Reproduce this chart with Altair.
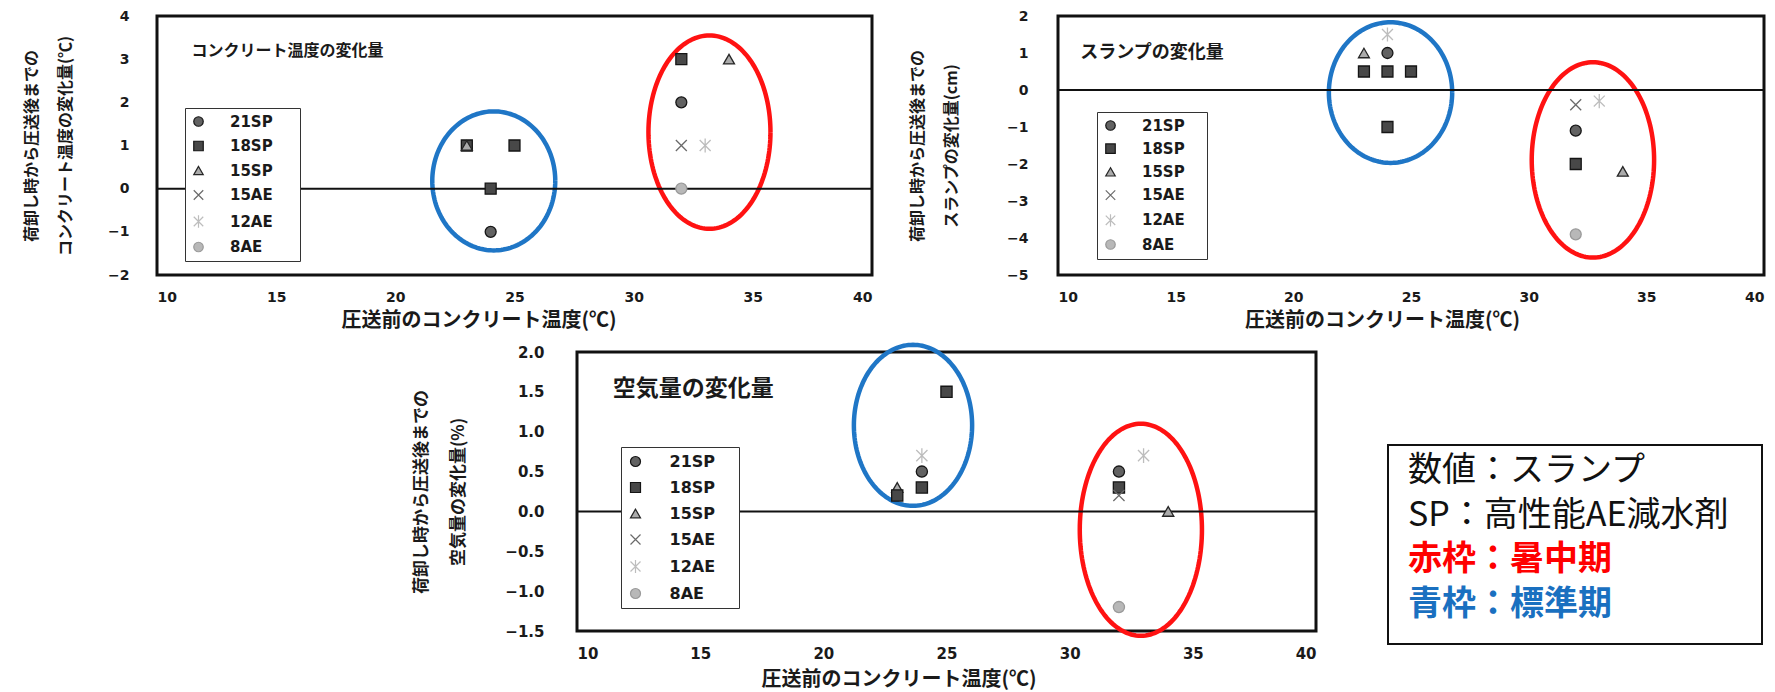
import altair as alt
import numpy as np
import pandas as pd

# ---- mixes and their markers -------------------------------------------
MIXES = ["21SP", "18SP", "15SP", "15AE", "12AE", "8AE"]
MIX_SHAPES = ["circle", "square", "triangle-up",
              "M-1,-1L1,1M-1,1L1,-1",
              "M-1,-1L1,1M-1,1L1,-1M0,-1.3L0,1.3",
              "circle"]
MIX_FILLS = ["#626262", "#484848", "#ababab", "#ffffff", "#ffffff", "#b8b8b8"]
MIX_STROKES = ["#151515", "#151515", "#262626", "#6a6a6a", "#bdbdbd", "#9a9a9a"]

TEMP_TICKS = [10, 15, 20, 25, 30, 35, 40]
X_TITLE = "圧送前のコンクリート温度(℃)"

# ---- コンクリート温度の変化量 (℃) ------------------------------------------
temp_mix = ["18SP", "15SP", "18SP", "18SP", "21SP",
            "18SP", "15SP", "21SP", "15AE", "12AE", "8AE"]
temp_x = [23, 23, 25, 24, 24, 32, 34, 32, 32, 33, 32]
temp_y = [1, 1, 1, 0, -1, 3, 3, 2, 1, 1, 0]

# ---- スランプの変化量 (cm) -----------------------------------------------
slump_mix = ["12AE", "15SP", "21SP", "18SP", "18SP", "18SP", "18SP",
             "15AE", "12AE", "21SP", "18SP", "15SP", "8AE"]
slump_x = [24, 23, 24, 23, 24, 25, 24, 32, 33, 32, 32, 34, 32]
slump_y = [1.5, 1, 1, 0.5, 0.5, 0.5, -1, -0.4, -0.3, -1.1, -2, -2.2, -3.9]

# ---- 空気量の変化量 (%) --------------------------------------------------
air_mix = ["18SP", "12AE", "21SP", "18SP", "15SP", "18SP",
           "12AE", "21SP", "18SP", "15AE", "15SP", "8AE"]
air_x = [25, 24, 24, 24, 23, 23, 33, 32, 32, 32, 34, 32]
air_y = [1.5, 0.7, 0.5, 0.3, 0.3, 0.2, 0.7, 0.5, 0.3, 0.2, 0.0, -1.2]

# ---- period rings: [標準期, 暑中期] (centre and half-axes, data units) ------
RING_COLORS = ["#1f76c6", "#ff1212"]
temp_ring_cx, temp_ring_cy = [24.13, 33.18], [0.18, 1.31]
temp_ring_rx, temp_ring_ry = [2.58, 2.56], [1.61, 2.24]
slump_ring_cx, slump_ring_cy = [24.13, 32.73], [-0.07, -1.89]
slump_ring_rx, slump_ring_ry = [2.62, 2.60], [1.90, 2.64]
air_ring_cx, air_ring_cy = [23.64, 32.89], [1.08, -0.23]
air_ring_rx, air_ring_ry = [2.40, 2.48], [1.01, 1.33]

# ---- note box --------------------------------------------------------------
NOTE_LINES = ["数値：スランプ", "SP：高性能AE減水剤", "赤枠：暑中期", "青枠：標準期"]
NOTE_COLORS = ["#111111", "#111111", "#ff0000", "#1a70c0"]
NOTE_BOLD = [False, False, True, True]

JP = "Noto Sans CJK JP"
NUM = "DejaVu Sans"
MARK_CHANNELS = dict(shape="independent", fill="independent", stroke="independent")


def ring_frame(cxs, cys, rxs, rys):
    t = np.linspace(0.0, 2.0 * np.pi, 161)
    parts = []
    for cx, cy, rx, ry, col in zip(cxs, cys, rxs, rys, RING_COLORS):
        parts.append(pd.DataFrame({
            "temp": cx + rx * np.cos(t),
            "delta": cy + ry * np.sin(t),
            "step": np.arange(len(t)),
            "ring": col,
        }))
    return pd.concat(parts, ignore_index=True)


def panel(mix, xs, ys, rings, heading, heading_at, y_title, y_dom, y_vals,
          y_fmt, legend_at, size, sty):
    w, h = size
    x_scale = alt.Scale(domain=[10, 40], nice=False, zero=False)
    y_scale = alt.Scale(domain=y_dom, nice=False, zero=False)
    x_axis = alt.Axis(values=TEMP_TICKS, title=X_TITLE, grid=False,
                      domain=False, ticks=False,
                      labelFontSize=sty["lfs"], labelPadding=sty["xlp"],
                      titleFontSize=sty["xtfs"], titlePadding=sty["xtp"],
                      titleX=w / 2 - sty["xtshift"])
    y_axis = alt.Axis(values=y_vals, format=y_fmt, title=y_title, grid=False,
                      domain=False, ticks=False,
                      labelFontSize=sty["lfs"], labelPadding=sty["ylp"],
                      titleFontSize=sty["ytfs"], titlePadding=sty["ytp"],
                      titleLineHeight=sty["ytlh"])
    X = alt.X("temp:Q", scale=x_scale, axis=x_axis)
    Y = alt.Y("delta:Q", scale=y_scale, axis=y_axis)

    ring_layer = alt.Chart(rings).mark_line(strokeWidth=4.5, clip=False).encode(
        x=X, y=Y, color=alt.Color("ring:N", scale=None), order="step:Q")

    zero_line = alt.Chart(pd.DataFrame({"delta": [0.0]})).mark_rule(
        color="#111111", strokeWidth=2).encode(y=Y)

    # trailing blanks widen the legend box; the zero-width end keeps them
    pad_text = "\u00a0" * sty["ltail"] + "\u200b"
    leg = alt.Legend(title=None, orient="none",
                     legendX=legend_at[0], legendY=legend_at[1],
                     fillColor="white", strokeColor="#333333",
                     padding=sty["lpad"], rowPadding=sty["lrow"],
                     labelFont=NUM, labelFontSize=sty["lgfs"],
                     labelFontWeight="bold", labelColor="#1a1a1a",
                     symbolSize=sty["lsym"], symbolStrokeWidth=1.2,
                     labelOffset=sty["loff"],
                     labelExpr="datum.label + '" + pad_text + "'")
    df = pd.DataFrame({"mix": mix, "temp": xs, "delta": ys})
    pts = alt.Chart(df).mark_point(filled=True, size=sty["ms"],
                                   strokeWidth=1.3, opacity=1).encode(
        x=X, y=Y,
        shape=alt.Shape("mix:N", scale=alt.Scale(domain=MIXES, range=MIX_SHAPES), legend=leg),
        fill=alt.Fill("mix:N", scale=alt.Scale(domain=MIXES, range=MIX_FILLS), legend=leg),
        stroke=alt.Stroke("mix:N", scale=alt.Scale(domain=MIXES, range=MIX_STROKES), legend=leg),
    )

    head = alt.Chart(pd.DataFrame({"label": [heading]})).mark_text(
        align="left", baseline="middle", font=JP, fontSize=sty["hfs"],
        fontWeight="bold", color="#1a1a1a").encode(
        x=alt.X(datum=heading_at[0], type="quantitative", scale=x_scale, axis=x_axis),
        y=alt.Y(datum=heading_at[1], type="quantitative", scale=y_scale, axis=y_axis),
        text="label:N")

    return alt.layer(ring_layer, zero_line, pts, head).properties(width=w, height=h)


def gap(w, h):
    return alt.Chart(pd.DataFrame({"v": [0]})).mark_point(opacity=0).encode(
        x=alt.value(0), y=alt.value(0)).properties(
        width=w, height=h, view=alt.ViewBackground(stroke="transparent"))


top_style = dict(lfs=14, xlp=15, xtfs=20, xtp=6, xtshift=36, ylp=28, ytfs=16,
                 ytp=34, ytlh=34, lpad=6, lrow=8.5, lgfs=15, lsym=90, loff=24,
                 ltail=4, ms=120, hfs=16)
slump_style = dict(top_style, ylp=30, ytp=47, lrow=7.2, hfs=18, xtshift=29, ltail=3)
air_style = dict(lfs=15, xlp=15, xtfs=20, xtp=8, xtshift=48, ylp=33, ytfs=17,
                 ytp=37, ytlh=37, lpad=6.5, lrow=10, lgfs=16, lsym=100, loff=26,
                 ltail=3, ms=125, hfs=23)

temp_chart = panel(temp_mix, temp_x, temp_y,
                   ring_frame(temp_ring_cx, temp_ring_cy, temp_ring_rx, temp_ring_ry),
                   "コンクリート温度の変化量", (11.45, 3.18),
                   ["荷卸し時から圧送後までの", "コンクリート温度の変化量(℃)"],
                   [-2, 4], [-2, -1, 0, 1, 2, 3, 4], "d", (28, 92),
                   (715, 259), top_style)

slump_chart = panel(slump_mix, slump_x, slump_y,
                    ring_frame(slump_ring_cx, slump_ring_cy, slump_ring_rx, slump_ring_ry),
                    "スランプの変化量", (10.95, 1.0),
                    ["荷卸し時から圧送後までの", "スランプの変化量(cm)"],
                    [-5, 2], [-5, -4, -3, -2, -1, 0, 1, 2], "d", (39, 96),
                    (706, 259), slump_style)

air_chart = panel(air_mix, air_x, air_y,
                  ring_frame(air_ring_cx, air_ring_cy, air_ring_rx, air_ring_ry),
                  "空気量の変化量", (11.45, 1.53),
                  ["荷卸し時から圧送後までの", "空気量の変化量(%)"],
                  [-1.5, 2.0], [-1.5, -1.0, -0.5, 0.0, 0.5, 1.0, 1.5, 2.0], ".1f", (44, 95),
                  (739, 279), air_style)

note_df = pd.DataFrame({"row": list(range(len(NOTE_LINES))), "text": NOTE_LINES,
                        "color": NOTE_COLORS, "bold": NOTE_BOLD})
note_y = alt.Y("row:O", axis=None,
               scale=alt.Scale(domain=list(range(len(NOTE_LINES))), padding=0.73, align=0.40))
note_plain = alt.Chart(note_df).transform_filter("!datum.bold").mark_text(
    align="left", baseline="middle", font=JP, fontSize=34).encode(
    x=alt.value(20), y=note_y, text="text:N", color=alt.Color("color:N", scale=None))
note_bold = alt.Chart(note_df).transform_filter("datum.bold").mark_text(
    align="left", baseline="middle", font=JP, fontSize=34, fontWeight="bold").encode(
    x=alt.value(20), y=note_y, text="text:N", color=alt.Color("color:N", scale=None))
note = alt.layer(note_plain, note_bold).properties(
    width=374, height=199, view=alt.ViewBackground(stroke="#111111", strokeWidth=2))

row_top = alt.hconcat(temp_chart, slump_chart, spacing=33).resolve_scale(**MARK_CHANNELS)
row_bottom = alt.hconcat(gap(188, 10), air_chart,
                         alt.vconcat(gap(374, 90), note, spacing=0),
                         spacing=64).resolve_scale(**MARK_CHANNELS)

chart = alt.vconcat(row_top, row_bottom, spacing=2).resolve_scale(
    **MARK_CHANNELS
).properties(
    padding={"left": 22, "top": 7, "right": 0, "bottom": 0},
    background="white",
).configure_view(
    stroke="#111111", strokeWidth=3
).configure_axis(
    labelFont=NUM, labelFontWeight="bold", labelColor="#1a1a1a",
    titleFont=JP, titleFontWeight="bold", titleColor="#1a1a1a",
)

chart.save("out.html", embed_options={"renderer": "svg", "actions": False})
